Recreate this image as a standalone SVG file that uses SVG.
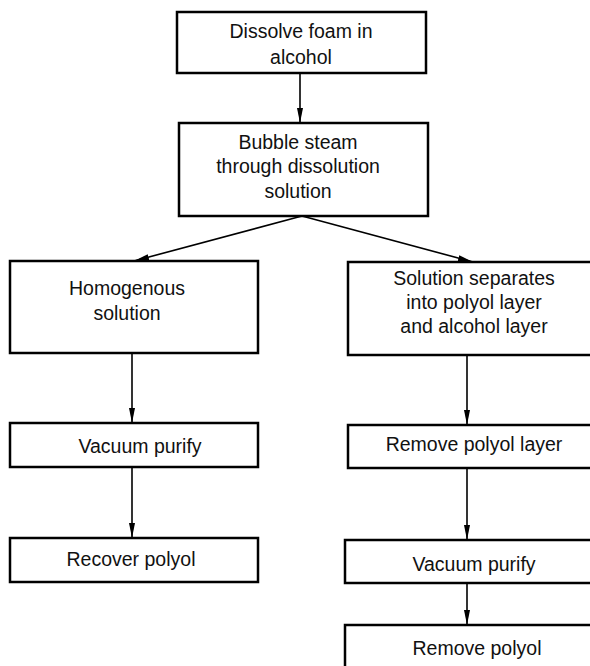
<svg xmlns="http://www.w3.org/2000/svg" width="590" height="666" viewBox="0 0 590 666">
<style>
.box{fill:#fff;stroke:#000;stroke-width:2.5}
.t{font-family:"Liberation Sans",Arial,sans-serif;font-size:19.5px;fill:#111;text-anchor:middle}
.c{fill:none;stroke:#000;stroke-width:1.6}
</style>
<defs>
<marker id="ah" markerUnits="userSpaceOnUse" markerWidth="18" markerHeight="10" refX="15" refY="4" orient="auto">
<path d="M0,1 L15,4 L0,7 Z" fill="#000"/>
</marker>
</defs>
<rect width="590" height="666" fill="#fff"/>
<g id="connectors">
<line class="c" x1="300" y1="73" x2="300" y2="123" marker-end="url(#ah)"/>
<line class="c" x1="302" y1="216" x2="134" y2="261" marker-end="url(#ah)"/>
<line class="c" x1="302" y1="216" x2="473" y2="262" marker-end="url(#ah)"/>
<line class="c" x1="132" y1="353" x2="132" y2="423" marker-end="url(#ah)"/>
<line class="c" x1="132" y1="467" x2="132" y2="538" marker-end="url(#ah)"/>
<line class="c" x1="467" y1="355" x2="467" y2="425" marker-end="url(#ah)"/>
<line class="c" x1="467" y1="468" x2="467" y2="540" marker-end="url(#ah)"/>
<line class="c" x1="467" y1="583" x2="467" y2="625" marker-end="url(#ah)"/>
</g>
<g id="n1">
<rect class="box" x="177" y="12" width="249" height="61"/>
<text class="t" x="301" y="38">Dissolve foam in</text>
<text class="t" x="301" y="64">alcohol</text>
</g>
<g id="n2">
<rect class="box" x="179" y="123" width="249" height="93"/>
<text class="t" x="298" y="149">Bubble steam</text>
<text class="t" x="298" y="173">through dissolution</text>
<text class="t" x="298" y="198">solution</text>
</g>
<g id="n3">
<rect class="box" x="10" y="261" width="248" height="92"/>
<text class="t" x="127" y="295">Homogenous</text>
<text class="t" x="127" y="320">solution</text>
</g>
<g id="n4">
<rect class="box" x="348" y="262" width="250" height="93"/>
<text class="t" x="474" y="285">Solution separates</text>
<text class="t" x="474" y="309">into polyol layer</text>
<text class="t" x="474" y="333">and alcohol layer</text>
</g>
<g id="n5">
<rect class="box" x="10" y="423" width="248" height="44"/>
<text class="t" x="140" y="453">Vacuum purify</text>
</g>
<g id="n6">
<rect class="box" x="10" y="538" width="248" height="44"/>
<text class="t" x="131" y="566">Recover polyol</text>
</g>
<g id="n7">
<rect class="box" x="348" y="425" width="250" height="43"/>
<text class="t" x="474" y="451">Remove polyol layer</text>
</g>
<g id="n8">
<rect class="box" x="345" y="540" width="253" height="43"/>
<text class="t" x="474" y="571">Vacuum purify</text>
</g>
<g id="n9">
<rect class="box" x="345" y="625" width="253" height="50"/>
<text class="t" x="477" y="655">Remove polyol</text>
</g>
</svg>
